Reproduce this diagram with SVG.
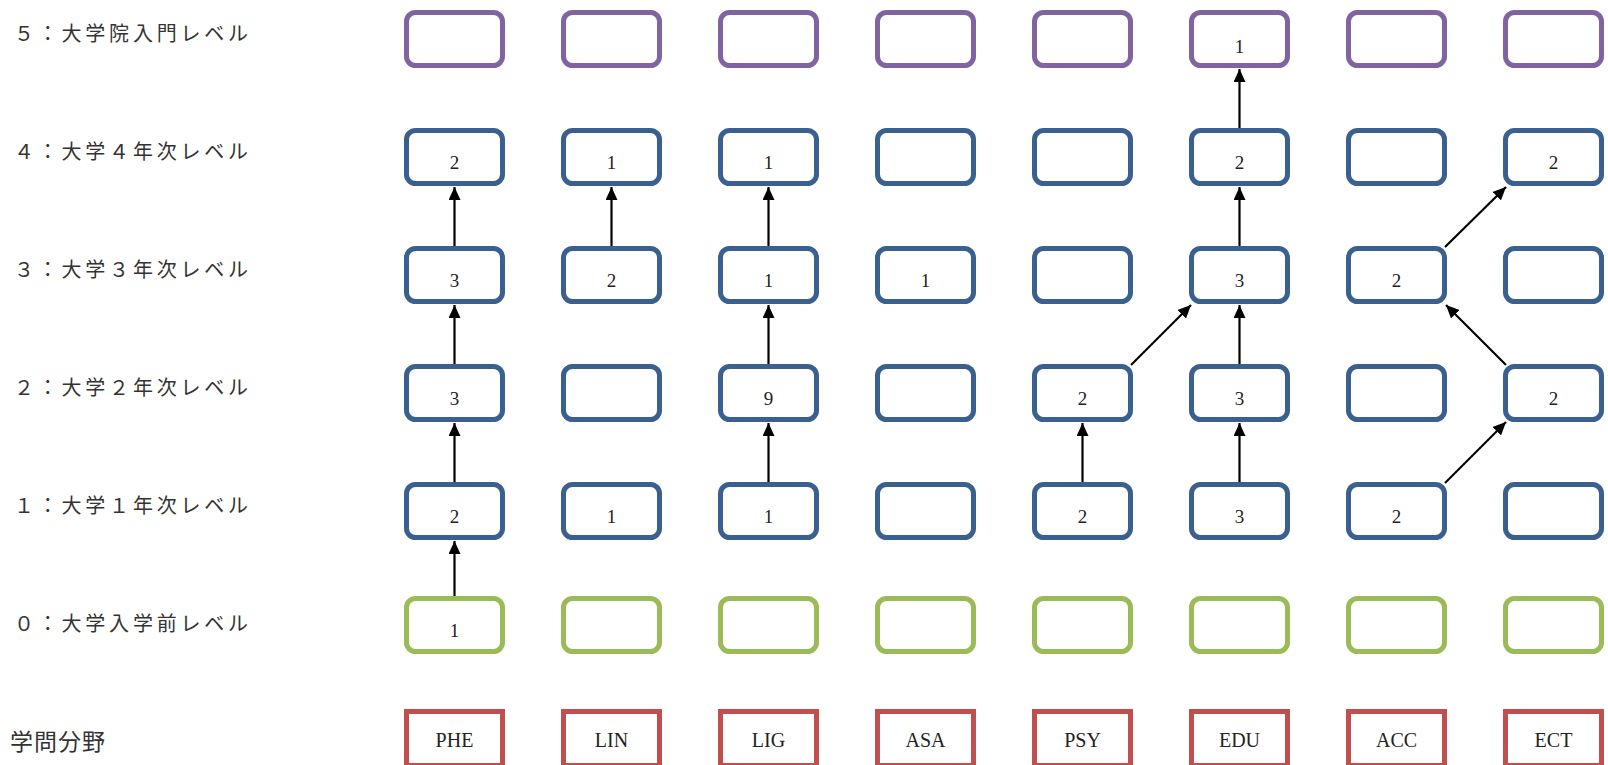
<svg xmlns="http://www.w3.org/2000/svg" width="1608" height="765" viewBox="0 0 1608 765">
<style>
.lbl{font-family:"Noto Sans CJK JP","Noto Sans",sans-serif;font-size:20px;fill:#333;}
.b{fill:#fff;stroke-width:5;}
.p{stroke:#8064A2;}
.u{stroke:#3A6090;}
.g{stroke:#9BBB59;}
.r{fill:#fff;stroke:#C0504D;stroke-width:5;}
.n{font-family:"Liberation Serif",serif;font-size:19px;fill:#222;text-anchor:middle;}
.s{font-family:"Liberation Serif",serif;font-size:20px;fill:#222;text-anchor:middle;}
.c{stroke:#000;stroke-width:2.2;fill:none;marker-end:url(#ah);}
</style>
<defs>
<marker id="ah" markerUnits="userSpaceOnUse" markerWidth="14" markerHeight="12" refX="13" refY="6" orient="auto">
<path d="M0,0 L13,6 L0,12 Z" fill="#000"/>
</marker>
</defs>
<rect width="1608" height="765" fill="#fff"/>
<g id="labels">
<text class="lbl" x="14" y="41" textLength="234" lengthAdjust="spacing">５：大学院入門レベル</text>
<text class="lbl" x="14" y="159" textLength="234" lengthAdjust="spacing">４：大学４年次レベル</text>
<text class="lbl" x="14" y="277" textLength="234" lengthAdjust="spacing">３：大学３年次レベル</text>
<text class="lbl" x="14" y="395" textLength="234" lengthAdjust="spacing">２：大学２年次レベル</text>
<text class="lbl" x="14" y="513" textLength="234" lengthAdjust="spacing">１：大学１年次レベル</text>
<text class="lbl" x="14" y="631" textLength="234" lengthAdjust="spacing">０：大学入学前レベル</text>
<text class="lbl" x="10" y="750" style="font-size:23px" textLength="95" lengthAdjust="spacing">学問分野</text>
</g>
<!-- row 5 -->
<g id="PHE5"><rect class="b p" x="406.5" y="12.5" width="96" height="53" rx="9"/></g>
<g id="LIN5"><rect class="b p" x="563.5" y="12.5" width="96" height="53" rx="9"/></g>
<g id="LIG5"><rect class="b p" x="720.5" y="12.5" width="96" height="53" rx="9"/></g>
<g id="ASA5"><rect class="b p" x="877.5" y="12.5" width="96" height="53" rx="9"/></g>
<g id="PSY5"><rect class="b p" x="1034.5" y="12.5" width="96" height="53" rx="9"/></g>
<g id="EDU5"><rect class="b p" x="1191.5" y="12.5" width="96" height="53" rx="9"/><text class="n" x="1239.5" y="53">1</text></g>
<g id="ACC5"><rect class="b p" x="1348.5" y="12.5" width="96" height="53" rx="9"/></g>
<g id="ECT5"><rect class="b p" x="1505.5" y="12.5" width="96" height="53" rx="9"/></g>
<!-- row 4 -->
<g id="PHE4"><rect class="b u" x="406.5" y="130.5" width="96" height="53" rx="9"/><text class="n" x="454.5" y="169">2</text></g>
<g id="LIN4"><rect class="b u" x="563.5" y="130.5" width="96" height="53" rx="9"/><text class="n" x="611.5" y="169">1</text></g>
<g id="LIG4"><rect class="b u" x="720.5" y="130.5" width="96" height="53" rx="9"/><text class="n" x="768.5" y="169">1</text></g>
<g id="ASA4"><rect class="b u" x="877.5" y="130.5" width="96" height="53" rx="9"/></g>
<g id="PSY4"><rect class="b u" x="1034.5" y="130.5" width="96" height="53" rx="9"/></g>
<g id="EDU4"><rect class="b u" x="1191.5" y="130.5" width="96" height="53" rx="9"/><text class="n" x="1239.5" y="169">2</text></g>
<g id="ACC4"><rect class="b u" x="1348.5" y="130.5" width="96" height="53" rx="9"/></g>
<g id="ECT4"><rect class="b u" x="1505.5" y="130.5" width="96" height="53" rx="9"/><text class="n" x="1553.5" y="169">2</text></g>
<!-- row 3 -->
<g id="PHE3"><rect class="b u" x="406.5" y="248.5" width="96" height="53" rx="9"/><text class="n" x="454.5" y="287">3</text></g>
<g id="LIN3"><rect class="b u" x="563.5" y="248.5" width="96" height="53" rx="9"/><text class="n" x="611.5" y="287">2</text></g>
<g id="LIG3"><rect class="b u" x="720.5" y="248.5" width="96" height="53" rx="9"/><text class="n" x="768.5" y="287">1</text></g>
<g id="ASA3"><rect class="b u" x="877.5" y="248.5" width="96" height="53" rx="9"/><text class="n" x="925.5" y="287">1</text></g>
<g id="PSY3"><rect class="b u" x="1034.5" y="248.5" width="96" height="53" rx="9"/></g>
<g id="EDU3"><rect class="b u" x="1191.5" y="248.5" width="96" height="53" rx="9"/><text class="n" x="1239.5" y="287">3</text></g>
<g id="ACC3"><rect class="b u" x="1348.5" y="248.5" width="96" height="53" rx="9"/><text class="n" x="1396.5" y="287">2</text></g>
<g id="ECT3"><rect class="b u" x="1505.5" y="248.5" width="96" height="53" rx="9"/></g>
<!-- row 2 -->
<g id="PHE2"><rect class="b u" x="406.5" y="366.5" width="96" height="53" rx="9"/><text class="n" x="454.5" y="405">3</text></g>
<g id="LIN2"><rect class="b u" x="563.5" y="366.5" width="96" height="53" rx="9"/></g>
<g id="LIG2"><rect class="b u" x="720.5" y="366.5" width="96" height="53" rx="9"/><text class="n" x="768.5" y="405">9</text></g>
<g id="ASA2"><rect class="b u" x="877.5" y="366.5" width="96" height="53" rx="9"/></g>
<g id="PSY2"><rect class="b u" x="1034.5" y="366.5" width="96" height="53" rx="9"/><text class="n" x="1082.5" y="405">2</text></g>
<g id="EDU2"><rect class="b u" x="1191.5" y="366.5" width="96" height="53" rx="9"/><text class="n" x="1239.5" y="405">3</text></g>
<g id="ACC2"><rect class="b u" x="1348.5" y="366.5" width="96" height="53" rx="9"/></g>
<g id="ECT2"><rect class="b u" x="1505.5" y="366.5" width="96" height="53" rx="9"/><text class="n" x="1553.5" y="405">2</text></g>
<!-- row 1 -->
<g id="PHE1"><rect class="b u" x="406.5" y="484.5" width="96" height="53" rx="9"/><text class="n" x="454.5" y="523">2</text></g>
<g id="LIN1"><rect class="b u" x="563.5" y="484.5" width="96" height="53" rx="9"/><text class="n" x="611.5" y="523">1</text></g>
<g id="LIG1"><rect class="b u" x="720.5" y="484.5" width="96" height="53" rx="9"/><text class="n" x="768.5" y="523">1</text></g>
<g id="ASA1"><rect class="b u" x="877.5" y="484.5" width="96" height="53" rx="9"/></g>
<g id="PSY1"><rect class="b u" x="1034.5" y="484.5" width="96" height="53" rx="9"/><text class="n" x="1082.5" y="523">2</text></g>
<g id="EDU1"><rect class="b u" x="1191.5" y="484.5" width="96" height="53" rx="9"/><text class="n" x="1239.5" y="523">3</text></g>
<g id="ACC1"><rect class="b u" x="1348.5" y="484.5" width="96" height="53" rx="9"/><text class="n" x="1396.5" y="523">2</text></g>
<g id="ECT1"><rect class="b u" x="1505.5" y="484.5" width="96" height="53" rx="9"/></g>
<!-- row 0 -->
<g id="PHE0"><rect class="b g" x="406.5" y="598.5" width="96" height="53" rx="9"/><text class="n" x="454.5" y="637">1</text></g>
<g id="LIN0"><rect class="b g" x="563.5" y="598.5" width="96" height="53" rx="9"/></g>
<g id="LIG0"><rect class="b g" x="720.5" y="598.5" width="96" height="53" rx="9"/></g>
<g id="ASA0"><rect class="b g" x="877.5" y="598.5" width="96" height="53" rx="9"/></g>
<g id="PSY0"><rect class="b g" x="1034.5" y="598.5" width="96" height="53" rx="9"/></g>
<g id="EDU0"><rect class="b g" x="1191.5" y="598.5" width="96" height="53" rx="9"/></g>
<g id="ACC0"><rect class="b g" x="1348.5" y="598.5" width="96" height="53" rx="9"/></g>
<g id="ECT0"><rect class="b g" x="1505.5" y="598.5" width="96" height="53" rx="9"/></g>
<!-- subjects -->
<g id="PHE"><rect class="r" x="406.5" y="711.5" width="96" height="54"/><text class="s" x="454.5" y="747">PHE</text></g>
<g id="LIN"><rect class="r" x="563.5" y="711.5" width="96" height="54"/><text class="s" x="611.5" y="747">LIN</text></g>
<g id="LIG"><rect class="r" x="720.5" y="711.5" width="96" height="54"/><text class="s" x="768.5" y="747">LIG</text></g>
<g id="ASA"><rect class="r" x="877.5" y="711.5" width="96" height="54"/><text class="s" x="925.5" y="747">ASA</text></g>
<g id="PSY"><rect class="r" x="1034.5" y="711.5" width="96" height="54"/><text class="s" x="1082.5" y="747">PSY</text></g>
<g id="EDU"><rect class="r" x="1191.5" y="711.5" width="96" height="54"/><text class="s" x="1239.5" y="747">EDU</text></g>
<g id="ACC"><rect class="r" x="1348.5" y="711.5" width="96" height="54"/><text class="s" x="1396.5" y="747">ACC</text></g>
<g id="ECT"><rect class="r" x="1505.5" y="711.5" width="96" height="54"/><text class="s" x="1553.5" y="747">ECT</text></g>
<g id="connectors">
<line class="c" x1="454.5" y1="596" x2="454.5" y2="541"/>
<line class="c" x1="454.5" y1="482" x2="454.5" y2="423"/>
<line class="c" x1="454.5" y1="364" x2="454.5" y2="305"/>
<line class="c" x1="454.5" y1="246" x2="454.5" y2="187"/>
<line class="c" x1="611.5" y1="246" x2="611.5" y2="187"/>
<line class="c" x1="768.5" y1="482" x2="768.5" y2="423"/>
<line class="c" x1="768.5" y1="364" x2="768.5" y2="305"/>
<line class="c" x1="768.5" y1="246" x2="768.5" y2="187"/>
<line class="c" x1="1082.5" y1="482" x2="1082.5" y2="423"/>
<line class="c" x1="1131" y1="365" x2="1191" y2="305"/>
<line class="c" x1="1239.5" y1="482" x2="1239.5" y2="423"/>
<line class="c" x1="1239.5" y1="364" x2="1239.5" y2="305"/>
<line class="c" x1="1239.5" y1="246" x2="1239.5" y2="187"/>
<line class="c" x1="1239.5" y1="128" x2="1239.5" y2="69"/>
<line class="c" x1="1445" y1="483" x2="1506" y2="422"/>
<line class="c" x1="1506" y1="365" x2="1446" y2="305"/>
<line class="c" x1="1445" y1="247" x2="1506" y2="187"/>
</g>
</svg>
